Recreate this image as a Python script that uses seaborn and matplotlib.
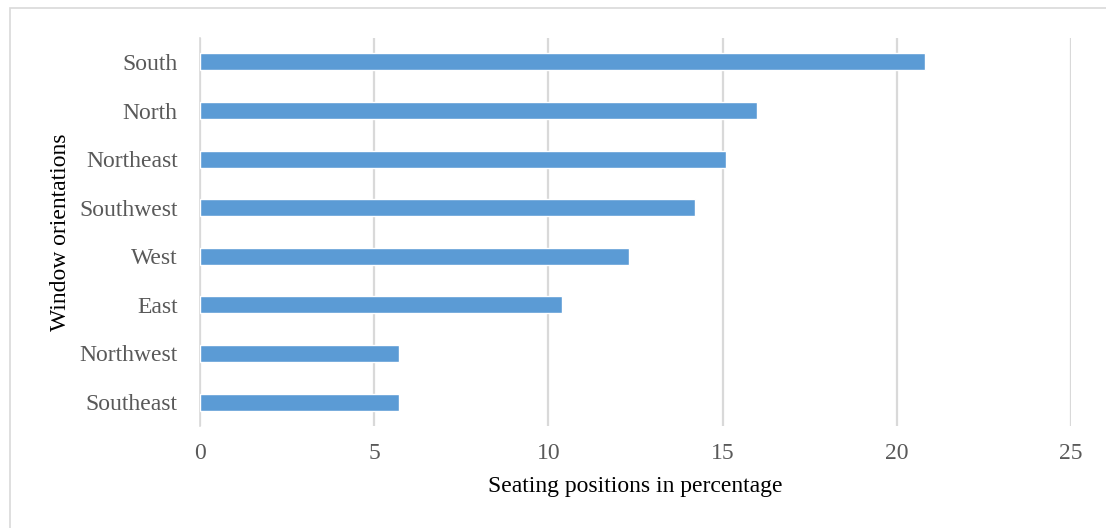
import pandas as pd
import matplotlib.pyplot as plt
import seaborn as sns
from matplotlib.patches import Rectangle

# ---- data ----
orientations = ['South', 'North', 'Northeast', 'Southwest', 'West', 'East', 'Northwest', 'Southeast']
percentages = [20.8, 16.0, 15.1, 14.2, 12.3, 10.4, 5.7, 5.7]
x_ticks = [0, 5, 10, 15, 20, 25]

df = pd.DataFrame({'orientation': orientations, 'pct': percentages})

sns.set_style('white')
plt.rcParams['font.family'] = ['Liberation Serif', 'DejaVu Serif']

fig = plt.figure(figsize=(11.06, 5.28), dpi=100)
ax = fig.add_axes([0.1808, 0.1926, 0.7876, 0.736])

sns.barplot(data=df, y='orientation', x='pct', orient='h', color='#5B9BD5',
            saturation=1, width=0.35, ax=ax, zorder=3)

ax.set_xlim(0, 25)
ax.set_xticks(x_ticks)
ax.set_xticklabels([str(t) for t in x_ticks])
ax.xaxis.grid(True, color='#D9D9D9', linewidth=1.6, zorder=0)
ax.set_axisbelow(True)

for s in ['top', 'right', 'bottom']:
    ax.spines[s].set_visible(False)
ax.spines['left'].set_color('#D9D9D9')
ax.spines['left'].set_linewidth(1.2)

ax.tick_params(axis='both', length=0, labelsize=17, colors='#595959')
ax.tick_params(axis='x', pad=12)
ax.tick_params(axis='y', pad=16)
ax.set_xlabel('Seating positions in percentage', fontsize=17, color='black', labelpad=9)
ax.set_ylabel('Window orientations', fontsize=17, color='black', labelpad=6)

# chart frame: only top and left edges fall inside the image
fig.patches.append(Rectangle((10 / 1106, -0.05), 1.2, 1.05 - 8 / 528,
                             transform=fig.transFigure, fill=False,
                             edgecolor='#D9D9D9', linewidth=1.2))

fig.savefig('out.png', dpi=100)
